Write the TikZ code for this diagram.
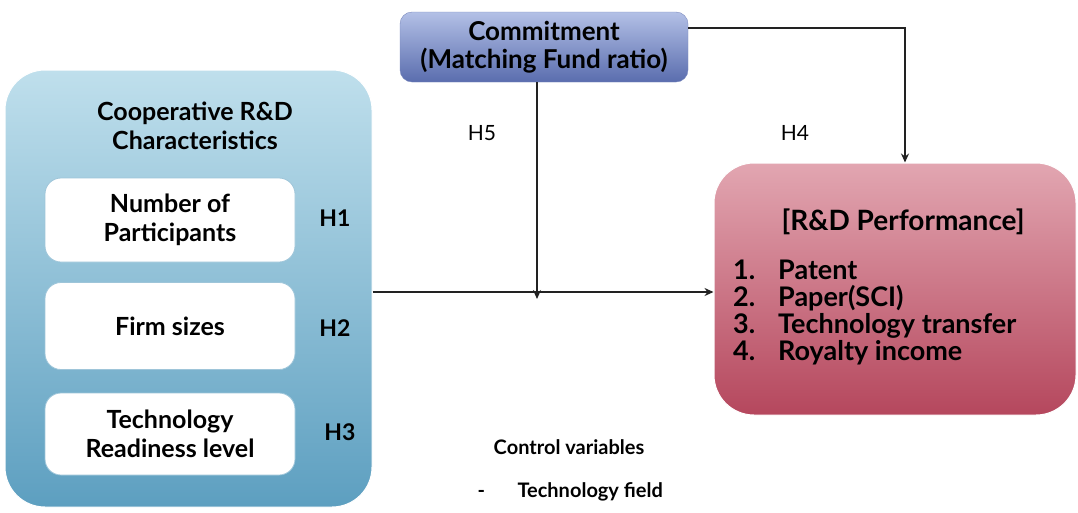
\documentclass[tikz,border=0pt]{standalone}
\usepackage{fontspec}
\setmainfont{Lato}
\usetikzlibrary{arrows.meta}

\definecolor{blueTop}{HTML}{BFDFEC}
\definecolor{blueBot}{HTML}{5D9FC0}
\definecolor{cmtTop}{HTML}{B3C0E6}
\definecolor{cmtBot}{HTML}{5A6DAE}
\definecolor{redTop}{HTML}{E2A6B1}
\definecolor{redBot}{HTML}{B5475D}
\definecolor{lineGray}{HTML}{222222}

\tikzset{
  panel/.style={rounded corners=40pt, draw=white, line width=1pt, inner sep=0pt},
  itembox/.style={rounded corners=16pt, fill=white, draw=blueBot!60, line width=0.8pt,
    minimum width=250pt, align=center, font=\bfseries\fontsize{25}{29}\selectfont},
  hyp/.style={font=\bfseries\fontsize{23}{26}\selectfont},
  hlabel/.style={font=\fontsize{21}{24}\selectfont},
  link/.style={draw=lineGray, line width=2pt, -{Stealth[length=9pt,width=8pt]}},
}

\begin{document}
\begin{tikzpicture}[x=1pt,y=-1pt]
					\useasboundingbox (0,0) rectangle (1078,512);
					
					% left panel
					\node[panel, top color=blueTop, bottom color=blueBot,
					  minimum width=367pt, minimum height=437pt] (coop) at (188.5,288.5) {};
					\node[align=center, font=\bfseries\fontsize{25}{29}\selectfont] (coopTitle) at (195,126) {Cooperative R\&D\\Characteristics};
					
					\node[itembox, minimum height=84pt] (part) at (170,220) {Number of\\Participants};
					\node[itembox, minimum height=87pt] (firm) at (170,326) {Firm sizes};
					\node[itembox, minimum height=82pt] (trl) at (170,434) {Technology\\Readiness level};
					
					\node[hyp] (hOne) at (335,218) {H1};
					\node[hyp] (hTwo) at (335,328) {H2};
					\node[hyp] (hThree) at (340,432) {H3};
					
					% moderator
					\node[rounded corners=12pt, top color=cmtTop, bottom color=cmtBot, draw=cmtBot!80,
					  minimum width=288pt, minimum height=70pt, align=center,
					  font=\bfseries\fontsize{26}{28}\selectfont] (cmt) at (544,47) {Commitment\\(Matching Fund ratio)};
					
					% outcome panel
					\node[panel, top color=redTop, bottom color=redBot,
					  minimum width=362pt, minimum height=252pt] (perf) at (895,289) {};
					\node[font=\bfseries\fontsize{28}{30}\selectfont] (perfTitle) at (903,222) {[R\&D Performance]};
					\node[anchor=north west, align=left, inner sep=0pt,
					  font=\bfseries\fontsize{27}{27}\selectfont] (perfList) at (733,260)
					  {\makebox[45pt][l]{1.}Patent\\\makebox[45pt][l]{2.}Paper(SCI)\\\makebox[45pt][l]{3.}Technology transfer\\\makebox[45pt][l]{4.}Royalty income};
					
					% connectors
					\coordinate (meet) at (537,292);
					\coordinate (bend) at (905,28);
					\draw[link] (coop.east |- meet) -- (perf.west |- meet);
					\draw[link] (cmt.south -| meet) -- ([yshift=-7pt]meet);
					\draw[link] (cmt.east |- bend) -- (bend) -- (perf.north -| bend);
					
					\node[hlabel] (hFive) at (482,133) {H5};
					\node[hlabel] (hFour) at (795,133) {H4};
					
					% controls
					\node[font=\bfseries\fontsize{20}{22}\selectfont] (ctrl) at (569,447) {Control variables};
					\node[anchor=west, font=\bfseries\fontsize{20}{22}\selectfont] (ctrlItem) at (474,492) {\makebox[40pt][l]{-}Technology field};
				\end{tikzpicture}
\end{document}
